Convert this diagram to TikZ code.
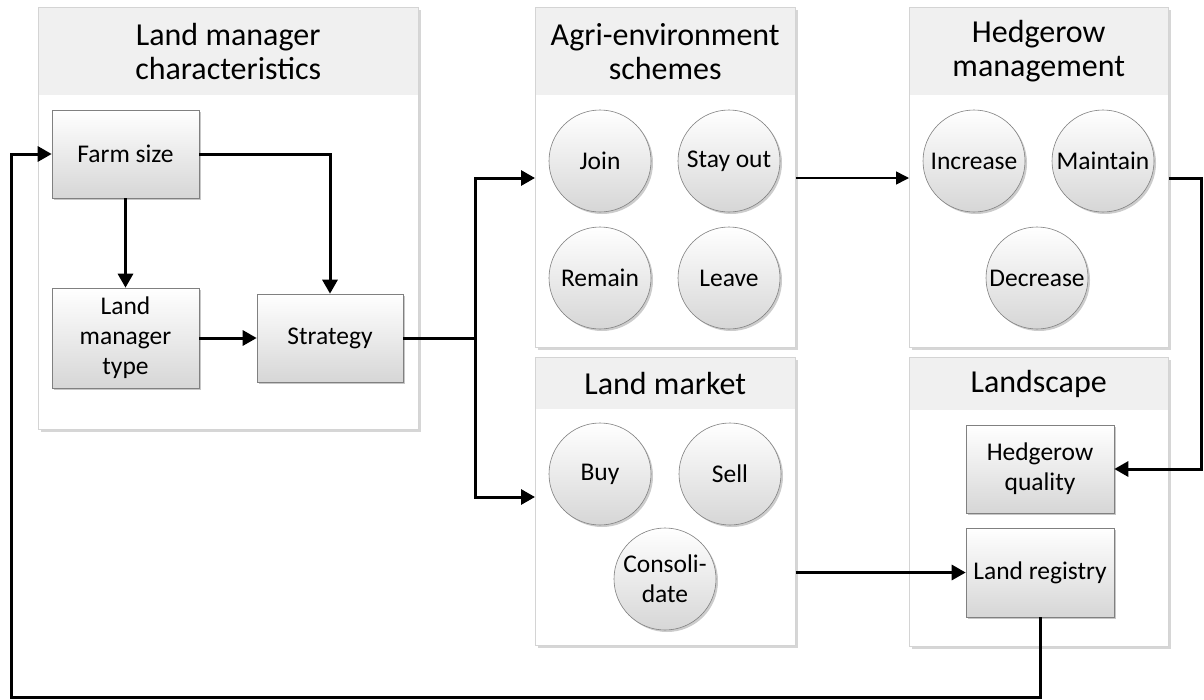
\documentclass[tikz,border=0pt]{standalone}
\usepackage{fontspec}
\setmainfont{Carlito}
\usetikzlibrary{arrows.meta,shadows}
\begin{document}
\begin{tikzpicture}[x=1pt,y=-1pt,
  cont/.style={rectangle, draw=black!17, fill=white, line width=0.8pt, anchor=north west, inner sep=0pt,
    drop shadow={shadow xshift=2.5pt, shadow yshift=-2.5pt, fill=black!16, opacity=1}},
  hdr/.style={rectangle, fill=black!6, anchor=north west, inner sep=0pt, align=center,
    font=\fontsize{32}{34}\selectfont},
  boxnode/.style={rectangle, draw=black!50, line width=0.6pt, top color=white, bottom color=black!16,
    inner sep=0pt, align=center, font=\fontsize{25.5}{30}\selectfont,
    drop shadow={shadow xshift=2pt, shadow yshift=-2pt, fill=black!22, opacity=1}},
  circnode/.style={circle, draw=black!50, line width=0.6pt, top color=white, bottom color=black!16,
    minimum size=102pt, inner sep=0pt, align=center, font=\fontsize{25.5}{30}\selectfont,
    drop shadow={shadow xshift=2pt, shadow yshift=-2pt, fill=black!20, opacity=1}},
  arr/.style={line width=3pt, -{Triangle[length=14pt,width=15pt]}},
  thinarr/.style={line width=1.5pt, -{Triangle[length=13pt,width=13pt]}},
]
\useasboundingbox (0,0) rectangle (1204,699);

% containers
\node[cont, minimum width=380pt, minimum height=422pt] (c1) at (38,7) {};
\node[hdr, minimum width=379pt, minimum height=87.5pt] (c1h) at (38.5,7.5) {Land manager\\characteristics};
\node[cont, minimum width=260pt, minimum height=340pt] (c2) at (535,7) {};
\node[hdr, minimum width=259pt, minimum height=87.5pt] (c2h) at (535.5,7.5) {Agri-environment\\schemes};
\node[cont, minimum width=259pt, minimum height=340pt] (c3) at (909,7) {};
\node[hdr, minimum width=258pt, minimum height=87.5pt] (c3h) at (909.5,7.5) {Hedgerow\\management};
\node[cont, minimum width=260pt, minimum height=288pt] (c4) at (535,357) {};
\node[hdr, minimum width=259pt, minimum height=51.5pt] (c4h) at (535.5,357.5) {Land market};
\node[cont, minimum width=259pt, minimum height=289pt] (c5) at (909,357) {};
\node[hdr, minimum width=258pt, minimum height=52.5pt] (c5h) at (909.5,357.5) {Landscape};

% boxes
\node[boxnode, minimum width=147pt, minimum height=88pt] (farm) at (125.5,154) {Farm size};
\node[boxnode, minimum width=147pt, minimum height=100pt] (lmtype) at (125.5,338) {Land\\manager\\type};
\node[boxnode, minimum width=146pt, minimum height=88pt] (strategy) at (330,338) {Strategy};
\node[boxnode, minimum width=148pt, minimum height=88pt] (hq) at (1040,469) {Hedgerow\\quality};
\node[boxnode, minimum width=148pt, minimum height=89pt] (lr) at (1040,572.5) {Land registry};

% circles
\node[circnode] (join) at (600,161) {Join};
\node[circnode] (stayout) at (729,161) {Stay out};
\node[circnode] (remain) at (600,278) {Remain};
\node[circnode] (leave) at (729,278) {Leave};
\node[circnode] (increase) at (974,161) {Increase};
\node[circnode] (maintain) at (1103,161) {Maintain};
\node[circnode] (decrease) at (1037,278) {Decrease};
\node[circnode] (buy) at (600,474) {Buy};
\node[circnode] (sell) at (730,474) {Sell};
\node[circnode] (consolidate) at (665,579) {Consoli-\\date};

% free-end coordinates
\coordinate (split) at (475,338);
\coordinate (rt) at (1201,469);
\coordinate (bl) at (11,697);

% connectors
\draw[arr] (farm) -- (lmtype);
\draw[arr] (farm.east) -| (strategy.north);
\draw[arr] (lmtype) -- (strategy);
\draw[arr] (strategy.east) -- (split) |- (c2.west |- 0,178);
\draw[arr] (split) |- (c4.west |- 0,497);
\draw[thinarr] (c2.east |- 0,178) -- (c3.west |- 0,178);
\draw[arr] (c3.east |- 0,178) -| (rt) -- (hq.east);
\draw[arr] (c4.east |- 0,572.5) -- (lr.west);
\draw[arr] (lr.south) |- (bl) |- (farm.west);
\end{tikzpicture}
\end{document}
